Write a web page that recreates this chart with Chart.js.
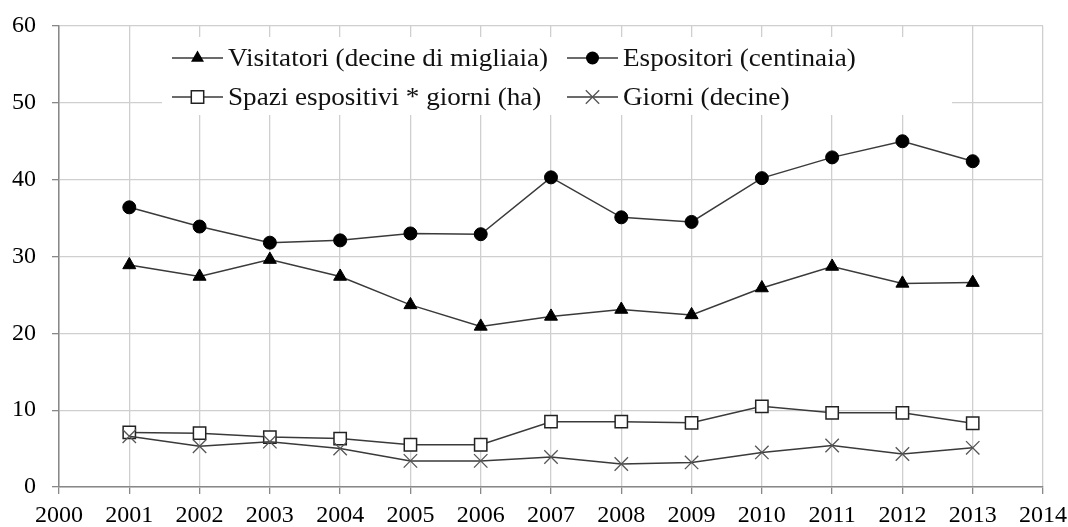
<!DOCTYPE html>
<html>
<head>
<meta charset="utf-8">
<script src="https://cdn.jsdelivr.net/npm/chart.js@4/dist/chart.umd.min.js"></script>
<style>
  body { margin: 0; background: #fff; }
  #wrap { width: 1068px; height: 527px; }
</style>
</head>
<body>
<div id="wrap"><canvas id="chart" width="1068" height="527"></canvas></div>
<script>
/*
DATA
*/
const years = [2001, 2002, 2003, 2004, 2005, 2006, 2007, 2008, 2009, 2010, 2011, 2012, 2013];
const visitatori = [28.9, 27.4, 29.6, 27.4, 23.7, 20.9, 22.2, 23.1, 22.4, 25.9, 28.7, 26.5, 26.6];
const espositori = [36.4, 33.9, 31.8, 32.1, 33.0, 32.9, 40.3, 35.1, 34.5, 40.2, 42.9, 45.0, 42.4];
const spazi = [7.1, 7.0, 6.5, 6.3, 5.5, 5.5, 8.5, 8.5, 8.35, 10.5, 9.65, 9.65, 8.3];
const giorni = [6.6, 5.3, 5.9, 5.0, 3.4, 3.4, 3.9, 3.0, 3.2, 4.5, 5.4, 4.3, 5.1];

const labels = [
  'Visitatori (decine di migliaia)',
  'Espositori (centinaia)',
  'Spazi espositivi * giorni (ha)',
  'Giorni (decine)'
];

const FONT = "'Liberation Serif', 'Times New Roman', serif";
const LINE = '#3a3a3a';

function toPoints(values) {
  return values.map((v, i) => ({ x: years[i], y: v }));
}

let datasets = [
  {
    label: labels[0], data: toPoints(visitatori), order: 2,
    borderColor: LINE, borderWidth: 1.5,
    pointStyle: 'triangle', pointRadius: 7.5,
    pointBackgroundColor: '#000', pointBorderColor: '#000', pointBorderWidth: 1
  },
  {
    label: labels[1], data: toPoints(espositori), order: 3,
    borderColor: LINE, borderWidth: 1.5,
    pointStyle: 'circle', pointRadius: 6.5,
    pointBackgroundColor: '#000', pointBorderColor: '#000', pointBorderWidth: 1
  },
  {
    label: labels[2], data: toPoints(spazi), order: 1,
    borderColor: LINE, borderWidth: 1.5,
    pointStyle: 'rect', pointRadius: 8.7,
    pointBackgroundColor: '#fff', pointBorderColor: '#222', pointBorderWidth: 1.5
  },
  {
    label: labels[3], data: toPoints(giorni), order: 0,
    borderColor: LINE, borderWidth: 1.5,
    pointStyle: 'crossRot', pointRadius: 9.5,
    pointBackgroundColor: '#555', pointBorderColor: '#555', pointBorderWidth: 1.3
  }
];

/*
LEGEND (drawn inside the plot, two columns)
*/
function drawMarker(ctx, style, x, y) {
  ctx.save();
  ctx.fillStyle = '#000';
  ctx.strokeStyle = '#000';
  ctx.beginPath();
  if (style === 'triangle') {
    let r = 7.5;
    ctx.moveTo(x, y - r);
    ctx.lineTo(x + r * 0.866, y + r * 0.5);
    ctx.lineTo(x - r * 0.866, y + r * 0.5);
    ctx.closePath();
    ctx.fill();
  } else if (style === 'circle') {
    ctx.arc(x, y, 6.5, 0, Math.PI * 2);
    ctx.fill();
  } else if (style === 'rect') {
    let s = 6.2;
    ctx.fillStyle = '#fff';
    ctx.lineWidth = 1.5;
    ctx.strokeStyle = '#222';
    ctx.rect(x - s, y - s, s * 2, s * 2);
    ctx.fill();
    ctx.stroke();
  } else {
    let s = 6.7;
    ctx.strokeStyle = '#555';
    ctx.lineWidth = 1.3;
    ctx.moveTo(x - s, y - s); ctx.lineTo(x + s, y + s);
    ctx.moveTo(x + s, y - s); ctx.lineTo(x - s, y + s);
    ctx.stroke();
  }
  ctx.restore();
}

const legendPlugin = {
  id: 'insideLegend',
  afterDraw(chart) {
    let ctx = chart.ctx;
    ctx.save();
    ctx.fillStyle = '#fff';
    ctx.fillRect(162, 37, 790, 78);
    let cols = [172, 567];
    let rows = [58, 97];
    let slots = [[0, 0], [1, 0], [0, 1], [1, 1]];
    chart.data.datasets.forEach((ds, i) => {
      let x = cols[slots[i][0]];
      let y = rows[slots[i][1]];
      ctx.strokeStyle = LINE;
      ctx.lineWidth = 1.5;
      ctx.beginPath();
      ctx.moveTo(x, y);
      ctx.lineTo(x + 51, y);
      ctx.stroke();
      drawMarker(ctx, ds.pointStyle, x + 25.5, y);
      // reference text is a little wider than Liberation Serif
      ctx.save();
      ctx.translate(x + 56, y + 1);
      ctx.scale(1.085, 1);
      ctx.fillStyle = '#111';
      ctx.font = '25px ' + FONT;
      ctx.textAlign = 'left';
      ctx.textBaseline = 'middle';
      ctx.fillText(ds.label, 0, 0);
      ctx.restore();
    });
    ctx.restore();
  }
};

/*
CHART
*/
let canvas = document.getElementById('chart');

let chart = new Chart(canvas, {
  type: 'line',
  data: { datasets: datasets },
  options: {
    responsive: false,
    animation: false,
    layout: { padding: { top: 26, right: 25, left: 0, bottom: 0 } },
    plugins: {
      legend: { display: false },
      tooltip: { enabled: false }
    },
    scales: {
      x: {
        type: 'linear',
        min: 2000, max: 2014,
        afterFit: (scale) => {
          scale.height = 40;
          scale.paddingLeft = 0;
          scale.paddingRight = 0;
        },
        ticks: {
          stepSize: 1,
          padding: 7,
          color: '#000',
          font: { family: FONT, size: 24 },
          callback: (v) => String(v)
        },
        grid: { color: '#cfcfcf', lineWidth: 1.3, tickColor: '#888', tickLength: 7 },
        border: { color: '#888', width: 1.5 }
      },
      y: {
        min: 0, max: 60,
        afterFit: (scale) => {
          scale.width = 59;
          scale.paddingTop = 0;
          scale.paddingBottom = 0;
        },
        ticks: {
          stepSize: 10,
          padding: 16,
          color: '#000',
          font: { family: FONT, size: 24 }
        },
        grid: { color: '#cfcfcf', lineWidth: 1.3, tickColor: '#888', tickLength: 7 },
        border: { color: '#888', width: 1.5 }
      }
    }
  },
  plugins: [legendPlugin]
});
</script>
</body>
</html>
